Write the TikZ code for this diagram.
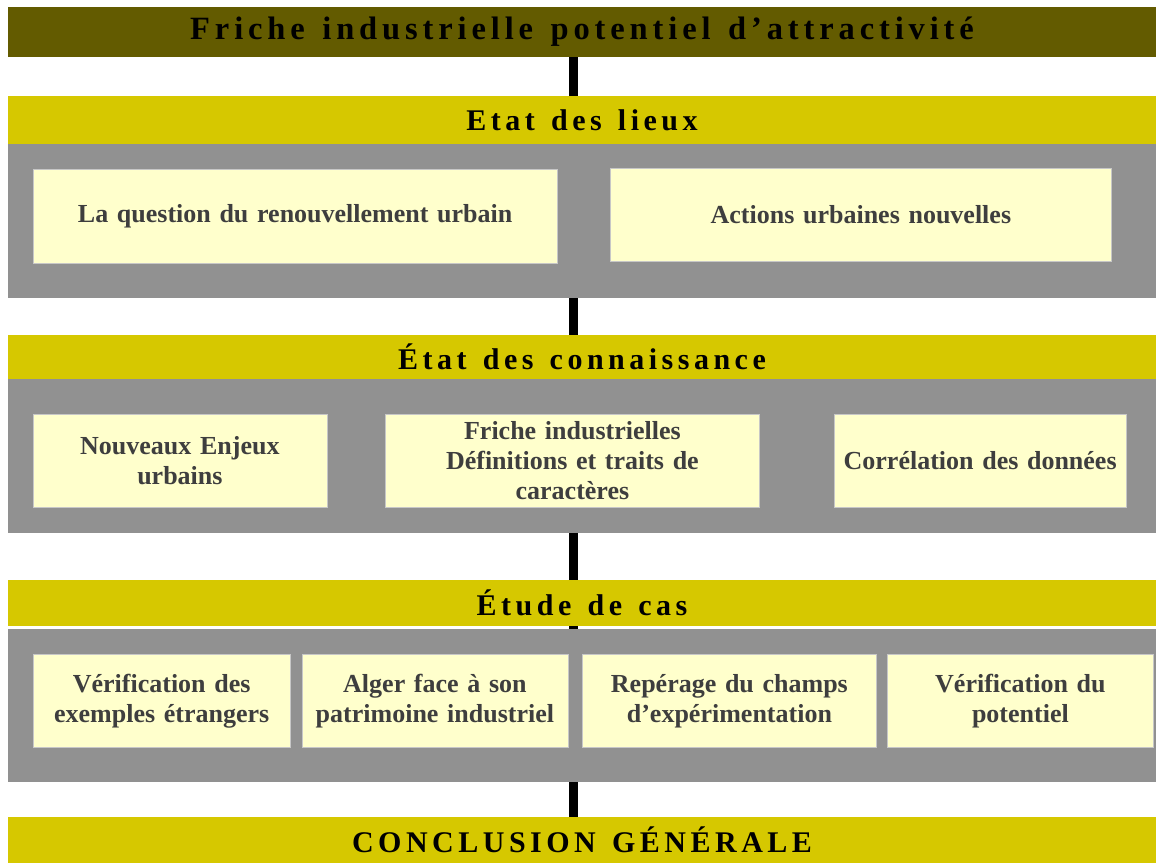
\documentclass[tikz,border=0pt]{standalone}
\usepackage{fontspec}
\setmainfont{Liberation Serif}
\newfontfamily\spacedfont[LetterSpace=15, WordSpace=1.35]{Liberation Serif}
\usetikzlibrary{positioning, backgrounds}
\definecolor{titleOlive}{RGB}{99,91,0}
\definecolor{barYellow}{RGB}{214,200,0}
\definecolor{panelGray}{RGB}{145,145,145}
\definecolor{boxCream}{RGB}{255,255,204}
\definecolor{boxText}{RGB}{62,62,62}

\tikzset{
  bar/.style={fill=barYellow, anchor=north west, minimum width=1148pt, minimum height=#1,
    inner sep=0pt, outer sep=0pt, font=\spacedfont\bfseries\fontsize{30}{36}\selectfont},
  panel/.style={fill=panelGray, anchor=north west, minimum width=1148pt, minimum height=#1,
    inner sep=0pt, outer sep=0pt},
  itembox/.style={fill=boxCream, draw=black!22, line width=0.8pt, anchor=north west,
    inner sep=0pt, align=center, text=boxText, font=\bfseries\fontsize{26}{30}\selectfont,
    text width=#1, minimum width=#1, minimum height=93pt},
  spine/.style={line width=9pt, black}
}

\begin{document}
\begin{tikzpicture}[x=1pt, y=-1pt]
    \useasboundingbox (0,0) rectangle (1156,863);
    \coordinate (spinex) at (573.5,0); % axis of the black spine

    % Title
    \node[bar=50pt, fill=titleOlive, font=\spacedfont\bfseries\fontsize{32.5}{40}\selectfont] (title) at (8,7)
        {Friche industrielle potentiel d’attractivité};

    % Etat des lieux
    \node[bar=48pt] (lieux) at (8,96) {Etat des lieux};
    \node[panel=154pt] (lieuxP) at (8,144) {};
    \node[itembox=524.5pt, minimum height=94pt] (renouv) at (32.5,169) {La question du renouvellement urbain};
    \node[itembox=501pt] (actions) at (610,168) {Actions urbaines nouvelles};

    % Etat des connaissance
    \node[bar=44pt] (conn) at (8,335) {État des connaissance};
    \node[panel=154pt] (connP) at (8,379) {};
    \node[itembox=294pt] (enjeux) at (32.5,414) {Nouveaux Enjeux\\urbains};
    \node[itembox=374pt] (friche) at (385,414) {Friche industrielles\\Définitions et traits de\\caractères};
    \node[itembox=291.5pt] (correl) at (834,414) {Corrélation des données};

    % Etude de cas
    \node[bar=46pt] (etude) at (8,580) {Étude de cas};
    \node[panel=153.5pt] (etudeP) at (8,628.5) {};
    \node[itembox=257.5pt] (verifEx) at (32.5,654) {Vérification des\\exemples étrangers};
    \node[itembox=266pt] (alger) at (301.5,654) {Alger face à son\\patrimoine industriel};
    \node[itembox=294pt] (reperage) at (582,654) {Repérage du champs\\d’expérimentation};
    \node[itembox=266pt] (verifPot) at (887,654) {Vérification du\\potentiel};

    % Conclusion
    \node[bar=46pt] (concl) at (8,817) {CONCLUSION GÉNÉRALE};

    % Spine behind everything
    \begin{scope}[on background layer]
        \draw[spine] (title.south -| spinex) -- (concl.north -| spinex);
    \end{scope}
\end{tikzpicture}
\end{document}
